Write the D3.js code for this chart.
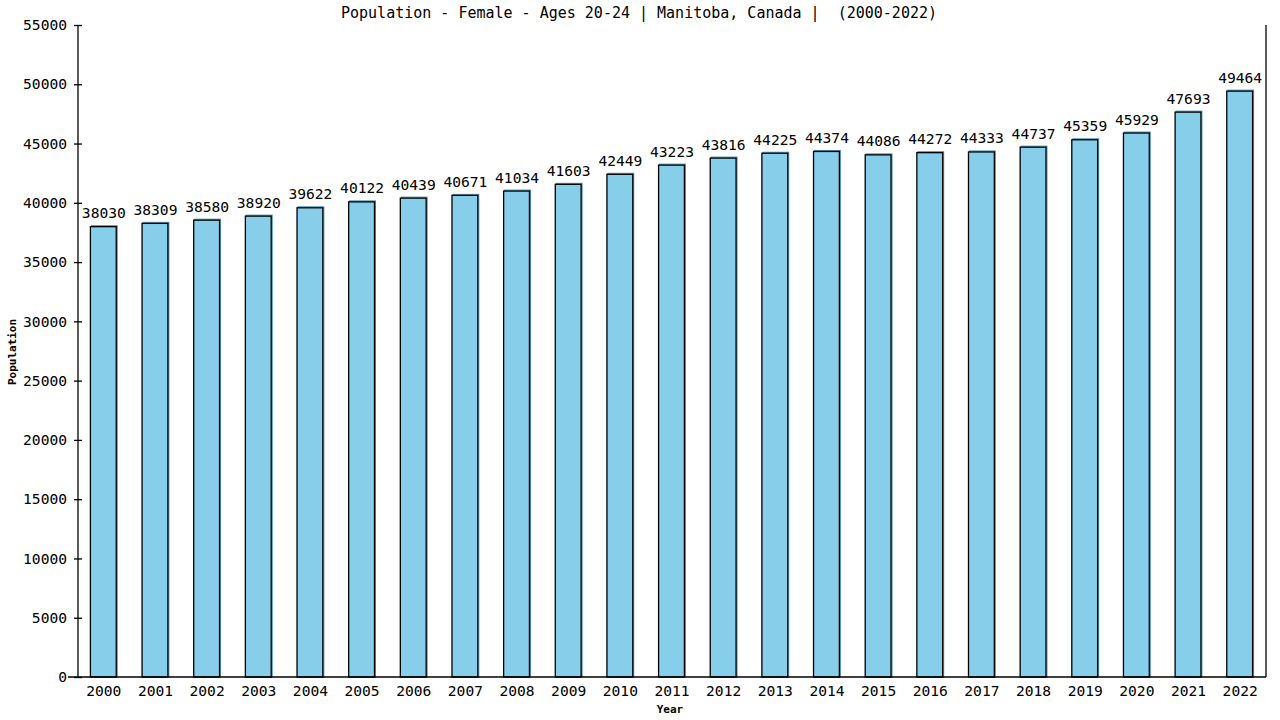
<!DOCTYPE html>
<html><head><meta charset="utf-8">
<script src="https://cdn.jsdelivr.net/npm/d3@7"></script>
<style>
body{margin:0;background:#fff;}
text{font-family:"DejaVu Sans Mono",monospace;white-space:pre;}
</style></head>
<body><svg id="c" width="1280" height="720"></svg>
<script>
const years = ["2000","2001","2002","2003","2004","2005","2006","2007","2008","2009","2010","2011","2012","2013","2014","2015","2016","2017","2018","2019","2020","2021","2022"];
const population = [38030,38309,38580,38920,39622,40122,40439,40671,41034,41603,42449,43223,43816,44225,44374,44086,44272,44333,44737,45359,45929,47693,49464];
const yTicks = [0,5000,10000,15000,20000,25000,30000,35000,40000,45000,50000,55000];
const title = "Population - Female - Ages 20-24 | Manitoba, Canada |  (2000-2022)";

const FS = 14.6;
const svg = d3.select("#c");
const L=78, R=1266, T=25, B=677;
const x = d3.scaleBand().domain(years).range([L,R]).paddingInner(0.5).paddingOuter(0.25);
const y = d3.scaleLinear().domain([0,55000]).range([B,T]);

// bars
const g = svg.append("g");
g.selectAll("rect.fill").data(population).enter().append("rect")
  .attr("x",(d,i)=>x(years[i])+0.5).attr("y",d=>y(d)-0.5)
  .attr("width",x.bandwidth()).attr("height",d=>B-y(d)+0.5)
  .attr("fill","#87CEEB").attr("stroke","#4a90b0").attr("stroke-width",1);
g.selectAll("rect.out").data(population).enter().append("rect")
  .attr("x",(d,i)=>x(years[i])-0.5).attr("y",d=>y(d)+0.5)
  .attr("width",x.bandwidth()).attr("height",d=>B-y(d)-0.5)
  .attr("fill","#87CEEB").attr("stroke","#000").attr("stroke-width",1.3);

// value labels
g.selectAll("text.v").data(population).enter().append("text")
  .attr("x",(d,i)=>x(years[i])+x.bandwidth()/2).attr("y",d=>y(d)-8)
  .attr("text-anchor","middle").attr("font-size",FS).attr("fill","#000")
  .text(d=>d);

// axes
const ya = d3.axisLeft(y).tickValues(yTicks).tickSize(4).tickFormat(d=>d);
const yg = svg.append("g").attr("transform",`translate(${L},0)`).call(ya);
yg.select(".domain").remove();
yg.selectAll(".tick line").attr("x1",-4).attr("x2",4).attr("stroke","#000").attr("stroke-width",1.3);
yg.selectAll(".tick text").attr("x",-11).attr("font-size",FS).attr("font-family","DejaVu Sans Mono").attr("fill","#000");

svg.append("line").attr("x1",L).attr("x2",L).attr("y1",T).attr("y2",B).attr("stroke","#000").attr("stroke-width",1.3);
svg.append("line").attr("x1",R).attr("x2",R).attr("y1",T).attr("y2",B).attr("stroke","#000").attr("stroke-width",1.3);
svg.append("line").attr("x1",L-10).attr("x2",R).attr("y1",B).attr("y2",B).attr("stroke","#000").attr("stroke-width",1.3);

const xa = d3.axisBottom(x).tickSize(0);
const xg = svg.append("g").attr("transform",`translate(0,${B})`).call(xa);
xg.select(".domain").remove();
xg.selectAll(".tick text").attr("y",9).attr("font-size",FS).attr("font-family","DejaVu Sans Mono").attr("fill","#000");

// titles
svg.append("text").attr("x",639).attr("y",18).attr("text-anchor","middle").attr("font-size",15).text(title);
svg.append("text").attr("x",670).attr("y",713).attr("text-anchor","middle").attr("font-size",11).attr("font-weight","bold").text("Year");
svg.append("text").attr("transform","translate(16,352) rotate(-90)").attr("text-anchor","middle").attr("font-size",11).attr("font-weight","bold").text("Population");
</script></body></html>
